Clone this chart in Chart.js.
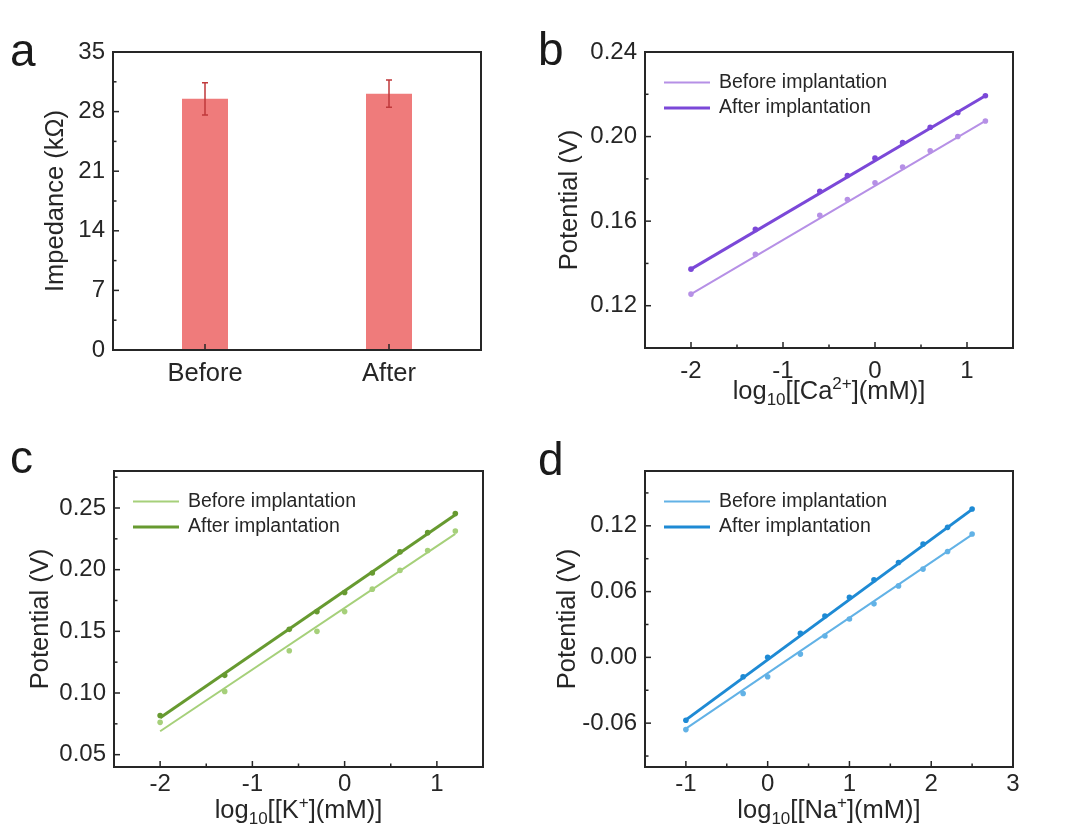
<!DOCTYPE html>
<html lang="en">
<head>
<meta charset="UTF-8" />
<title>Impedance and ion-selective electrode calibration</title>
<script src="https://cdn.jsdelivr.net/npm/chart.js"></script>
<style>
  body { margin: 0; background: #fff; font-family: 'Liberation Sans', Arial, sans-serif; }
  .fig { position: relative; width: 1078px; height: 834px; overflow: hidden; }
  .panel { position: absolute; width: 539px; height: 417px; }
  .tag { position: absolute; font-size: 46px; line-height: 46px; color: #1a1a1a; }
</style>
</head>
<body>
<div class="fig">
  <div class="panel" style="left:0;top:0"><canvas id="chartA" width="539" height="417"></canvas></div>
  <div class="panel" style="left:539px;top:0"><canvas id="chartB" width="539" height="417"></canvas></div>
  <div class="panel" style="left:0;top:417px"><canvas id="chartC" width="539" height="417"></canvas></div>
  <div class="panel" style="left:539px;top:417px"><canvas id="chartD" width="539" height="417"></canvas></div>
  <div class="tag" style="left:10px;top:27px">a</div>
  <div class="tag" style="left:538px;top:26px">b</div>
  <div class="tag" style="left:10px;top:434px">c</div>
  <div class="tag" style="left:538px;top:436px">d</div>
</div>
<script>
const FONT = "'Liberation Sans', Arial, sans-serif";
const INK = '#262626';

// a: impedance before / after implantation
const impLabels = ['Before', 'After'];
const impMean = [29.5, 30.1];
const impErr = [1.9, 1.6];
const impMinor = [3.5, 10.5, 17.5, 24.5, 31.5];

// b: Ca2+ calibration
const caX = [-2, -1.3, -0.6, -0.3, 0, 0.3, 0.6, 0.9, 1.2];
const caBefore = [0.1255, 0.1443, 0.1628, 0.1702, 0.1781, 0.1856, 0.1933, 0.2000, 0.2074];
const caAfter = [0.1373, 0.1561, 0.1741, 0.1816, 0.1898, 0.1972, 0.2044, 0.2113, 0.2193];
const caFitX = [-2, 1.2];
const caFitBefore = [0.1255, 0.2074];
const caFitAfter = [0.1373, 0.2193];
const caTicksX = [-2, -1, 0, 1];
const caTicksY = [0.12, 0.16, 0.20, 0.24];

// c: K+ calibration
const kX = [-2, -1.3, -0.6, -0.3, 0, 0.3, 0.6, 0.9, 1.2];
const kBefore = [0.0762, 0.1013, 0.1342, 0.1500, 0.1660, 0.1842, 0.1994, 0.2155, 0.2313];
const kAfter = [0.0817, 0.1143, 0.1516, 0.1660, 0.1815, 0.1973, 0.2144, 0.2300, 0.2455];
const kFitX = [-2, 1.2];
const kFitBefore = [0.069, 0.229];
const kFitAfter = [0.080, 0.2445];
const kTicksX = [-2, -1, 0, 1];
const kTicksY = [0.05, 0.10, 0.15, 0.20, 0.25];

// d: Na+ calibration
const naX = [-1, -0.3, 0, 0.4, 0.7, 1, 1.3, 1.6, 1.9, 2.2, 2.5];
const naBefore = [-0.0659, -0.0329, -0.0177, 0.0030, 0.0195, 0.0350, 0.0488, 0.0652, 0.0805, 0.0966, 0.1125];
const naAfter = [-0.0574, -0.0177, 0.0000, 0.0220, 0.0378, 0.0549, 0.0707, 0.0866, 0.1034, 0.1186, 0.1354];
const naFitX = [-1, 2.5];
const naFitBefore = [-0.065, 0.112];
const naFitAfter = [-0.057, 0.135];
const naTicksX = [-1, 0, 1, 2, 3];
const naTicksY = [-0.06, 0.00, 0.06, 0.12];

const pts = (xs, ys) => xs.map((x, i) => ({ x: x, y: ys[i] }));

// box, inward tick marks, error bars, legend and the sub/superscript x title
const framePlugin = {
  id: 'frame',
  afterDatasetsDraw(chart, args, o) {
    const { ctx, chartArea: a, scales: { x, y } } = chart;
    ctx.save();
    ctx.lineCap = 'butt';

    if (o.err) {
      ctx.strokeStyle = '#c0393b';
      ctx.lineWidth = 1.5;
      chart.getDatasetMeta(0).data.forEach((bar, i) => {
        const t = y.getPixelForValue(o.err.mean[i] + o.err.sd[i]);
        const b = y.getPixelForValue(o.err.mean[i] - o.err.sd[i]);
        ctx.beginPath();
        ctx.moveTo(bar.x, t); ctx.lineTo(bar.x, b);
        ctx.moveTo(bar.x - 3, t); ctx.lineTo(bar.x + 3, t);
        ctx.moveTo(bar.x - 3, b); ctx.lineTo(bar.x + 3, b);
        ctx.stroke();
      });
    }

    ctx.strokeStyle = INK;
    ctx.lineWidth = 1.5;
    const seg = (x1, y1, x2, y2) => { ctx.beginPath(); ctx.moveTo(x1, y1); ctx.lineTo(x2, y2); ctx.stroke(); };
    x.ticks.forEach((t, i) => { const p = x.getPixelForTick(i); seg(p, a.bottom, p, a.bottom - 6); });
    (o.xMinor || []).forEach(v => { const p = x.getPixelForValue(v); seg(p, a.bottom, p, a.bottom - 3.5); });
    y.ticks.forEach((t, i) => { const p = y.getPixelForTick(i); seg(a.left, p, a.left + 6, p); });
    (o.yMinor || []).forEach(v => { const p = y.getPixelForValue(v); seg(a.left, p, a.left + 3.5, p); });

    ctx.lineWidth = 2;
    ctx.strokeRect(a.left, a.top, a.right - a.left, a.bottom - a.top);

    if (o.legend) {
      ctx.font = '19.5px ' + FONT;
      ctx.textBaseline = 'middle';
      o.legend.forEach((it, i) => {
        const ly = a.top + 30.5 + i * 25.5;
        ctx.strokeStyle = it.color;
        ctx.lineWidth = it.width;
        seg(a.left + 19, ly, a.left + 65, ly);
        ctx.fillStyle = INK;
        ctx.fillText(it.text, a.left + 74, ly);
      });
    }

    if (o.xTitle) {
      const parts = o.xTitle.map(p => ({ t: p[0], k: p[1] || '' }));
      const big = '25.5px ' + FONT, small = '17px ' + FONT;
      let w = 0;
      parts.forEach(p => { ctx.font = p.k ? small : big; p.w = ctx.measureText(p.t).width; w += p.w; });
      let cx = (a.left + a.right) / 2 - w / 2;
      const base = a.bottom + 51;
      ctx.fillStyle = INK;
      ctx.textBaseline = 'alphabetic';
      parts.forEach(p => {
        ctx.font = p.k ? small : big;
        const dy = p.k === 'sub' ? 6 : p.k === 'sup' ? -10 : 0;
        ctx.fillText(p.t, cx, base + dy);
        cx += p.w;
      });
    }
    ctx.restore();
  }
};

function axes(o) {
  const tickFont = { family: FONT, size: 24 };
  return {
    x: {
      type: o.xType || 'linear',
      min: o.xMin, max: o.xMax,
      grid: { display: false, drawTicks: false },
      border: { display: false },
      ticks: { color: INK, font: o.xFont || tickFont, padding: o.xPad == null ? 9 : o.xPad, callback: o.xLabel || (v => String(v)) },
      afterBuildTicks: o.xTicks ? s => { s.ticks = o.xTicks.map(v => ({ value: v })); } : undefined,
      afterFit: s => { s.height = o.h; }
    },
    y: {
      min: o.yMin, max: o.yMax,
      grid: { display: false, drawTicks: false },
      border: { display: false },
      ticks: { color: INK, font: tickFont, padding: 8, stepSize: o.yStep, callback: o.yLabel },
      afterBuildTicks: o.yTicks ? s => { s.ticks = o.yTicks.map(v => ({ value: v })); } : undefined,
      title: { display: true, text: o.yTitle, color: INK, font: { family: FONT, size: 25.5 }, padding: { top: o.titlePad, bottom: 0 } },
      afterFit: s => { s.width = o.w; }
    }
  };
}

const base = {
  responsive: false,
  animation: false,
  events: []
};

// a
new Chart(document.getElementById('chartA'), {
  type: 'bar',
  data: {
    labels: impLabels,
    datasets: [{ data: impMean, backgroundColor: '#ef7b7b', barPercentage: 0.25, categoryPercentage: 1 }]
  },
  options: Object.assign({}, base, {
    layout: { padding: { left: 0, top: 52, right: 58, bottom: 0 } },
    scales: axes({
      xType: 'category', xFont: { family: FONT, size: 25.5 }, xLabel: function (v) { return this.getLabelForValue(v); },
      yMin: 0, yMax: 35, yStep: 7, yLabel: v => String(v),
      yTitle: 'Impedance (kΩ)', titlePad: 41, w: 113, h: 67
    }),
    plugins: {
      legend: { display: false }, tooltip: { enabled: false },
      frame: { err: { mean: impMean, sd: impErr }, yMinor: impMinor }
    }
  }),
  plugins: [framePlugin]
});

function calib(id, cfg) {
  const lineSet = (ys, color, width) => ({ data: pts(cfg.fitX, ys), showLine: true, borderColor: color, borderWidth: width, pointRadius: 0 });
  const dotSet = (ys, color) => ({ data: pts(cfg.x, ys), showLine: false, pointRadius: 2.8, pointBackgroundColor: color, pointBorderColor: color, pointBorderWidth: 0 });
  new Chart(document.getElementById(id), {
    type: 'scatter',
    data: {
      datasets: [
        dotSet(cfg.before, cfg.c1),
        dotSet(cfg.after, cfg.c2),
        lineSet(cfg.fitBefore, cfg.c1, 2),
        lineSet(cfg.fitAfter, cfg.c2, 3)
      ]
    },
    options: Object.assign({}, base, {
      layout: { padding: cfg.pad },
      scales: axes({
        xMin: cfg.xMin, xMax: cfg.xMax, xTicks: cfg.ticksX, xPad: cfg.xPad,
        yMin: cfg.yMin, yMax: cfg.yMax, yTicks: cfg.ticksY, yLabel: v => v.toFixed(2),
        yTitle: 'Potential (V)', titlePad: cfg.titlePad, w: cfg.w, h: cfg.h
      }),
      plugins: {
        legend: { display: false }, tooltip: { enabled: false },
        frame: {
          xMinor: cfg.xMinor, yMinor: cfg.yMinor,
          legend: [
            { text: 'Before implantation', color: cfg.c1, width: 2 },
            { text: 'After implantation', color: cfg.c2, width: 3 }
          ],
          xTitle: cfg.xTitle
        }
      }
    }),
    plugins: [framePlugin]
  });
}

calib('chartB', {
  x: caX, before: caBefore, after: caAfter, fitX: caFitX, fitBefore: caFitBefore, fitAfter: caFitAfter,
  c1: '#b690e6', c2: '#7b48d8',
  xMin: -2.5, xMax: 1.5, ticksX: caTicksX, xMinor: [-1.5, -0.5, 0.5], xPad: 9,
  yMin: 0.10, yMax: 0.24, ticksY: caTicksY, yMinor: [0.14, 0.18, 0.22],
  pad: { left: 0, top: 52, right: 65, bottom: 0 }, w: 106, h: 69, titlePad: 15.5,
  xTitle: [['log'], ['10', 'sub'], ['[[Ca'], ['2+', 'sup'], ['](mM)]']]
});

calib('chartC', {
  x: kX, before: kBefore, after: kAfter, fitX: kFitX, fitBefore: kFitBefore, fitAfter: kFitAfter,
  c1: '#a6d07a', c2: '#679a30',
  xMin: -2.5, xMax: 1.5, ticksX: kTicksX, xMinor: [-1.5, -0.5, 0.5], xPad: 3,
  yMin: 0.04, yMax: 0.28, ticksY: kTicksY, yMinor: [0.075, 0.125, 0.175, 0.225, 0.275],
  pad: { left: 0, top: 54, right: 56, bottom: 0 }, w: 114, h: 67, titlePad: 25.5,
  xTitle: [['log'], ['10', 'sub'], ['[[K'], ['+', 'sup'], ['](mM)]']]
});

calib('chartD', {
  x: naX, before: naBefore, after: naAfter, fitX: naFitX, fitBefore: naFitBefore, fitAfter: naFitAfter,
  c1: '#62b2e6', c2: '#1e8ad4',
  xMin: -1.5, xMax: 3, ticksX: naTicksX, xMinor: [-0.5, 0.5, 1.5, 2.5], xPad: 3,
  yMin: -0.10, yMax: 0.17, ticksY: naTicksY, yMinor: [-0.09, -0.03, 0.03, 0.09, 0.15],
  pad: { left: 0, top: 54, right: 65, bottom: 0 }, w: 106, h: 67, titlePad: 13.5,
  xTitle: [['log'], ['10', 'sub'], ['[[Na'], ['+', 'sup'], ['](mM)]']]
});
</script>
</body>
</html>
